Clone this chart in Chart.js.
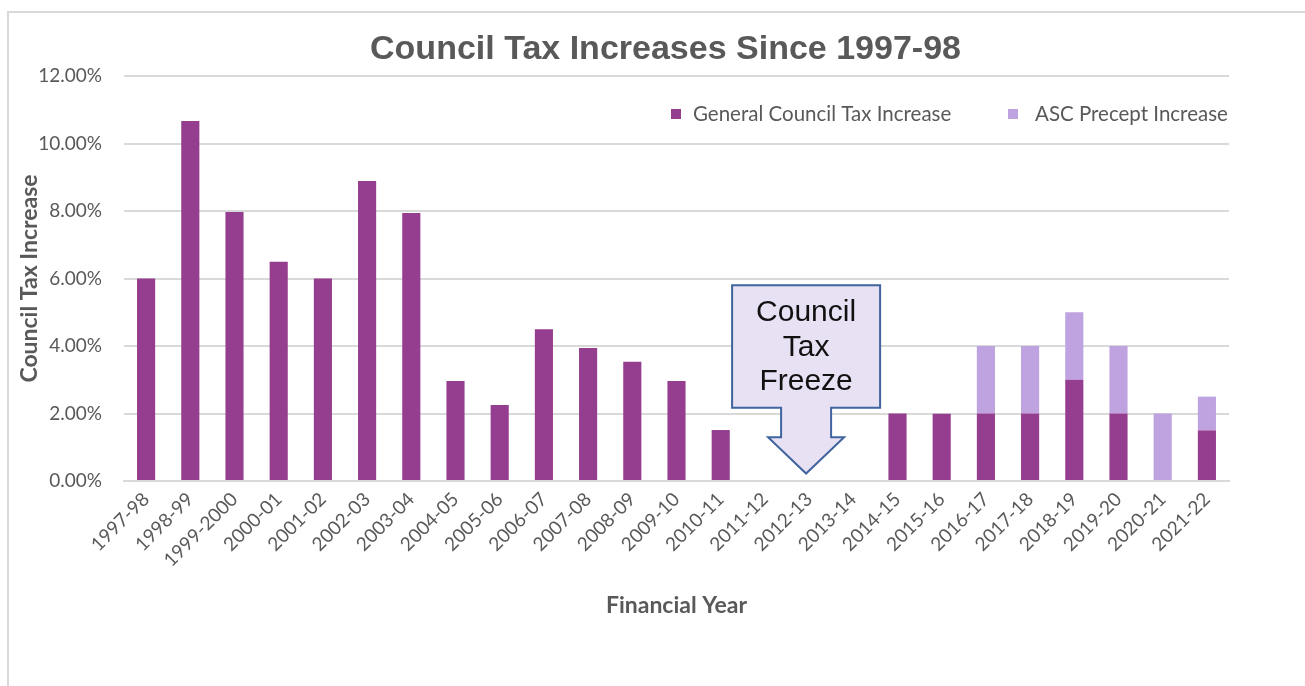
<!DOCTYPE html>
<html>
<head>
<meta charset="utf-8">
<title>Council Tax Increases Since 1997-98</title>
<script src="https://cdn.jsdelivr.net/npm/chart.js@4/dist/chart.umd.min.js"></script>
<style>
  html, body { margin: 0; padding: 0; background: #ffffff; }
  #wrap { position: relative; width: 1305px; height: 686px; overflow: hidden; }
  #frame { position: absolute; left: 7px; top: 11px; width: 1320px; height: 700px;
           border: 2px solid #d9d9d9; box-sizing: border-box; }
  #chart { position: absolute; left: 0; top: 0; }
</style>
</head>
<body>
<div id="wrap">
  <div id="frame"></div>
  <canvas id="chart" width="1305" height="686"></canvas>
</div>
<script>
// Financial years shown on the x axis
const years = [
  '1997-98', '1998-99', '1999-2000', '2000-01', '2001-02', '2002-03', '2003-04',
  '2004-05', '2005-06', '2006-07', '2007-08', '2008-09', '2009-10', '2010-11',
  '2011-12', '2012-13', '2013-14', '2014-15', '2015-16', '2016-17', '2017-18',
  '2018-19', '2019-20', '2020-21', '2021-22'
];

// General council tax increase, percent
const generalIncrease = [
  6.0, 10.67, 7.97, 6.5, 6.0, 8.89, 7.94,
  2.96, 2.25, 4.5, 3.94, 3.53, 2.96, 1.51,
  0, 0, 0, 2.0, 1.99, 2.0, 2.0,
  3.0, 2.0, 0, 1.5
];

// Adult social care precept increase, percent
const ascIncrease = [
  0, 0, 0, 0, 0, 0, 0,
  0, 0, 0, 0, 0, 0, 0,
  0, 0, 0, 0, 0, 2.0, 2.0,
  2.0, 2.0, 2.0, 1.0
];

// Y axis ticks, percent
const yTicks = [0, 2, 4, 6, 8, 10, 12];

const seriesNames = ['General Council Tax Increase', 'ASC Precept Increase'];
const seriesColors = ['#953d8f', '#bea3e0'];

const chartTitle = 'Council Tax Increases Since 1997-98';
const freezeYear = '2012-13';
const freezeText = ['Council', 'Tax', 'Freeze'];

const textGrey = '#595959';
const uiFont = 'Lato, "Open Sans", sans-serif';

// Chart title, placed a little left of the plot centre
const topTitle = {
  id: 'topTitle',
  afterDraw(chart) {
    const ctx = chart.ctx;
    const area = chart.chartArea;
    ctx.save();
    ctx.font = 'bold 34px "Liberation Sans", Arial, sans-serif';
    ctx.fillStyle = textGrey;
    ctx.textAlign = 'center';
    ctx.textBaseline = 'middle';
    ctx.fillText(chartTitle, (area.left + area.right) / 2 - 11, area.top - 26);
    ctx.restore();
  }
};

// Legend drawn inside the plot area, top right
const innerLegend = {
  id: 'innerLegend',
  afterDraw(chart) {
    const ctx = chart.ctx;
    const area = chart.chartArea;
    const y = area.top + 38;
    const starts = [area.left + 547, area.left + 884];
    const gaps = [22, 27];
    ctx.save();
    ctx.font = '20.5px ' + uiFont;
    ctx.textBaseline = 'middle';
    ctx.textAlign = 'left';
    chart.data.datasets.forEach((ds, i) => {
      const x = starts[i];
      ctx.fillStyle = ds.backgroundColor;
      ctx.fillRect(x, y - 5, 10, 10);
      ctx.fillStyle = textGrey;
      ctx.fillText(ds.label, x + gaps[i], y);
    });
    ctx.restore();
  }
};

// Down-arrow callout pointing at the freeze years
const freezeCallout = {
  id: 'freezeCallout',
  afterDatasetsDraw(chart) {
    const xs = chart.scales.x;
    const ys = chart.scales.y;
    const cx = xs.getPixelForValue(years.indexOf(freezeYear)) - 3;
    const boxTop = ys.getPixelForValue(5.8);
    const boxBottom = ys.getPixelForValue(2.17);
    const stemBottom = ys.getPixelForValue(1.3);
    const tipY = ys.getPixelForValue(0.22);
    const halfBox = 74, halfStem = 25, halfHead = 38;
    const ctx = chart.ctx;
    ctx.save();
    ctx.beginPath();
    ctx.moveTo(cx - halfBox, boxTop);
    ctx.lineTo(cx + halfBox, boxTop);
    ctx.lineTo(cx + halfBox, boxBottom);
    ctx.lineTo(cx + halfStem, boxBottom);
    ctx.lineTo(cx + halfStem, stemBottom);
    ctx.lineTo(cx + halfHead, stemBottom);
    ctx.lineTo(cx, tipY);
    ctx.lineTo(cx - halfHead, stemBottom);
    ctx.lineTo(cx - halfStem, stemBottom);
    ctx.lineTo(cx - halfStem, boxBottom);
    ctx.lineTo(cx - halfBox, boxBottom);
    ctx.closePath();
    ctx.fillStyle = '#e8e1f4';
    ctx.fill();
    ctx.lineWidth = 2;
    ctx.strokeStyle = '#3f649e';
    ctx.lineJoin = 'miter';
    ctx.stroke();
    ctx.fillStyle = '#111111';
    ctx.font = '30px "Liberation Sans", Arial, sans-serif';
    ctx.textAlign = 'center';
    ctx.textBaseline = 'middle';
    const midY = (boxTop + boxBottom) / 2;
    freezeText.forEach((line, i) => {
      ctx.fillText(line, cx, midY + (i - 1) * 34.5 + 1);
    });
    ctx.restore();
  }
};

new Chart(document.getElementById('chart'), {
  type: 'bar',
  data: {
    labels: years,
    datasets: [
      { label: seriesNames[0], data: generalIncrease, backgroundColor: seriesColors[0] },
      { label: seriesNames[1], data: ascIncrease, backgroundColor: seriesColors[1] }
    ]
  },
  options: {
    responsive: false,
    animation: false,
    devicePixelRatio: 1,
    layout: { padding: { left: 10, right: 76, top: 76, bottom: 63 } },
    datasets: { bar: { barPercentage: 0.41, categoryPercentage: 1.0 } },
    plugins: {
      legend: { display: false },
      tooltip: { enabled: false },
      title: { display: false }
    },
    scales: {
      x: {
        stacked: true,
        grid: { display: false, drawTicks: false },
        border: { display: true, color: '#d9d9d9', width: 2 },
        ticks: {
          color: textGrey,
          font: { family: uiFont, size: 19 },
          minRotation: 45,
          maxRotation: 45,
          autoSkip: false,
          padding: 7
        },
        title: {
          display: true,
          text: 'Financial Year',
          color: textGrey,
          font: { family: uiFont, size: 23, weight: 'bold' },
          padding: { top: 4, bottom: 4 }
        },
        afterFit(scale) { scale.height = 142; }
      },
      y: {
        stacked: true,
        min: 0,
        max: 12,
        afterBuildTicks(scale) { scale.ticks = yTicks.map(v => ({ value: v })); },
        grid: { color: '#d9d9d9', lineWidth: 2, drawTicks: false },
        border: { display: false },
        ticks: {
          color: textGrey,
          font: { family: uiFont, size: 19 },
          padding: 22,
          callback: v => Number(v).toFixed(2) + '%'
        },
        title: {
          display: true,
          text: 'Council Tax Increase',
          color: textGrey,
          font: { family: uiFont, size: 23, weight: 'bold' },
          padding: { top: 6, bottom: 6 }
        },
        afterFit(scale) { scale.width = 114; }
      }
    }
  },
  plugins: [innerLegend, freezeCallout, topTitle]
});
</script>
</body>
</html>
